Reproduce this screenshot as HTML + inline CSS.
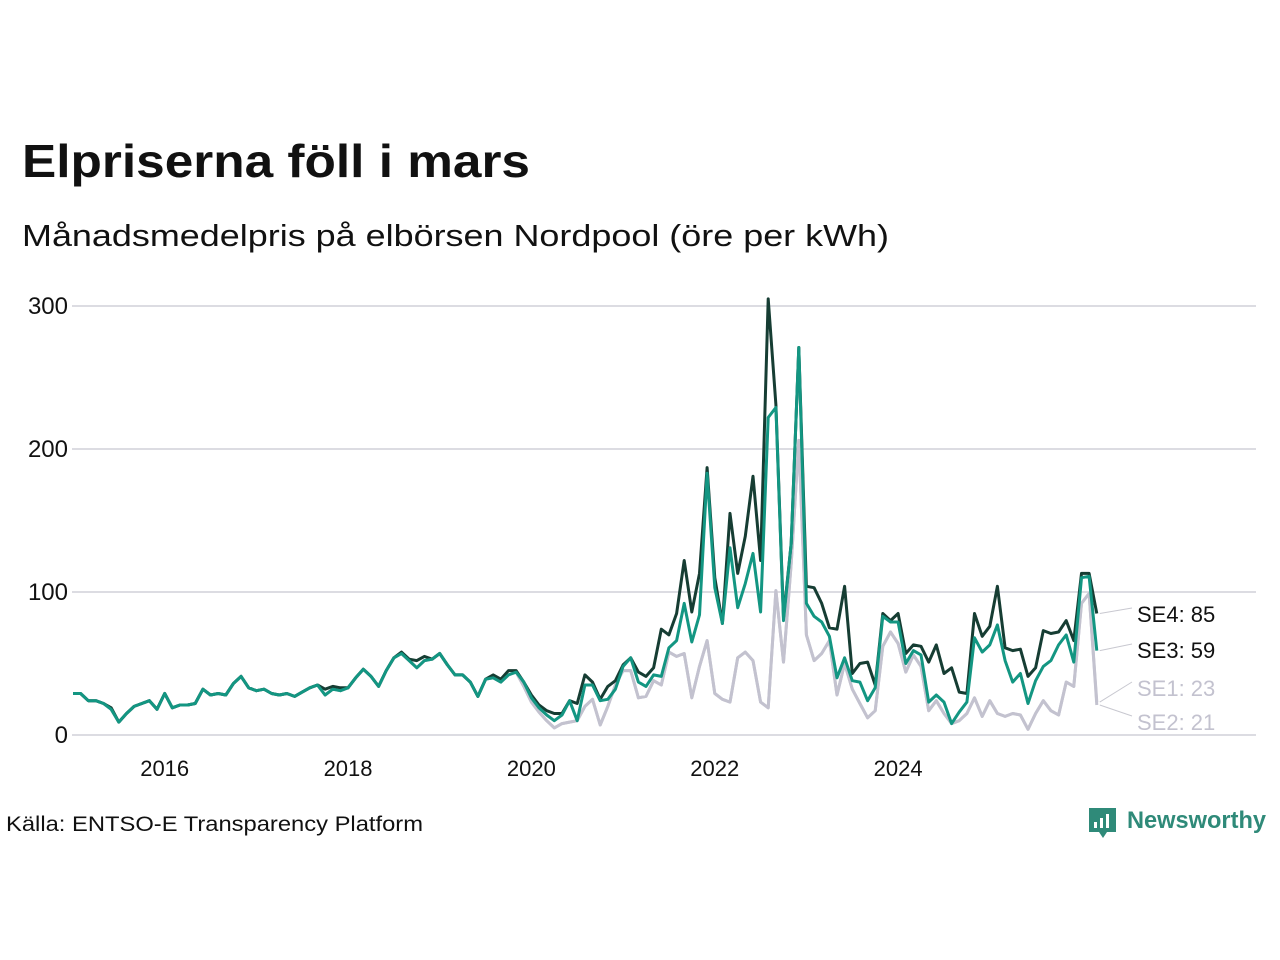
<!DOCTYPE html>
<html><head><meta charset="utf-8">
<style>
html,body{margin:0;padding:0;background:#fff;}
svg{display:block;font-family:"Liberation Sans",sans-serif;}
</style></head>
<body>
<svg id="chart" width="1280" height="960" viewBox="0 0 1280 960" xmlns="http://www.w3.org/2000/svg">
<text x="22" y="177" font-size="46" font-weight="bold" fill="#111" textLength="508" lengthAdjust="spacingAndGlyphs">Elpriserna föll i mars</text>
<text x="22" y="246" font-size="31" fill="#111" textLength="867" lengthAdjust="spacingAndGlyphs">Månadsmedelpris på elbörsen Nordpool (öre per kWh)</text>
<g id="grid"></g>
<g id="xaxis"></g>
<g id="lines"></g>
<g id="labels"></g>
<text x="6" y="831" font-size="21" fill="#111" textLength="417" lengthAdjust="spacingAndGlyphs">Källa: ENTSO-E Transparency Platform</text>
<g>
<path d="M1089 808 h27 v24 h-9 l-4 6 l-4 -6 h-10 z" fill="#2f8a79"/>
<rect x="1094" y="822" width="3" height="6" fill="#fff"/>
<rect x="1100" y="818" width="3" height="10" fill="#fff"/>
<rect x="1106" y="814" width="3" height="14" fill="#fff"/>
<text x="1127" y="828" font-size="24" font-weight="bold" fill="#2f8a79" textLength="139" lengthAdjust="spacingAndGlyphs">Newsworthy</text>
</g>
</svg>
<script>
const startYear = 2015;
const se4 = [29,29,24,24,22,19,9,15,20,22,24,18, 29,19,21,21,22,32,28,29,28,36,41,33, 31,32,29,28,29,27,30,33,35,32,34,33, 33,40,46,41,34,45,54,58,53,52,55,53, 57,49,42,42,37,27,39,42,39,45,45,37, 28,21,17,15,15,24,22,42,37,25,34,38, 49,54,44,41,47,74,70,85,122,86,113,187, 110,78,155,113,139,181,122,305,231,82,134,271, 104,103,92,75,74,104,43,50,51,35,85,80, 85,57,63,62,51,63,43,47,30,29,85,69, 76,104,61,59,60,41,47,73,71,72,80,66, 113,113,85];
const se3 = [29,29,24,24,22,18,9,15,20,22,24,18, 29,19,21,21,22,32,28,29,28,36,41,33, 31,32,29,28,29,27,30,33,35,28,32,31, 33,40,46,41,34,45,54,57,52,47,52,53, 57,49,42,42,37,27,39,40,37,42,44,37, 26,19,14,10,14,24,10,35,35,24,25,32, 48,54,37,34,42,41,61,66,92,65,84,183, 103,78,131,89,106,127,86,222,229,80,134,271, 92,83,79,69,40,54,38,37,24,33,83,79, 79,50,59,56,23,28,23,8,16,23,68,58, 63,77,52,37,43,22,38,48,52,63,70,51, 110,111,59];
const se2 = [29,29,24,24,22,18,9,15,20,22,24,18, 29,19,21,21,22,32,28,29,28,36,41,33, 31,32,29,28,29,27,30,33,35,28,32,31, 33,40,46,41,34,45,54,57,52,47,52,53, 57,49,42,42,37,27,39,40,37,42,44,34, 23,16,10,5,8,9,10,20,25,7,20,35, 45,45,26,27,38,35,58,55,57,26,48,66, 29,25,23,54,58,52,23,19,101,51,120,206, 70,52,57,66,28,50,32,22,12,17,62,72, 64,44,56,48,17,24,15,8,10,15,26,13, 24,15,13,15,14,4,15,24,17,14,37,34, 92,99,21];
const se1 = [29,29,24,24,22,18,9,15,20,22,24,18, 29,19,21,21,22,32,28,29,28,36,41,33, 31,32,29,28,29,27,30,33,35,28,32,31, 33,40,46,41,34,45,54,57,52,47,52,53, 57,49,42,42,37,27,39,40,37,42,44,34, 23,16,10,5,8,9,10,20,25,7,20,35, 45,45,26,27,38,35,58,55,57,26,48,66, 29,25,23,54,58,52,23,19,101,51,120,206, 70,52,57,66,28,50,32,22,12,17,62,72, 64,44,56,48,17,24,15,8,10,15,26,13, 24,15,13,15,14,4,15,24,17,14,37,34, 92,99,23];
const yTicks = [0,100,200,300];
const xTickYears = [2016,2018,2020,2022,2024];
const seriesNames = ["SE1","SE2","SE3","SE4"];

const NS = "http://www.w3.org/2000/svg";
const x = i => 73 + i * 7.64;
const xYear = y => x((y - startYear) * 12);
const yv = v => 735 - v * 1.43;

const grid = document.getElementById('grid');
yTicks.forEach(t => {
  const l = document.createElementNS(NS,'line');
  
  
  l.setAttribute('x1', 72); l.setAttribute('x2', 1256);
  l.setAttribute('y1', yv(t)); l.setAttribute('y2', yv(t));
  l.setAttribute('stroke', '#dcdce2'); l.setAttribute('stroke-width', 2);
  grid.appendChild(l);
  const tx = document.createElementNS(NS,'text');
  
  
  tx.setAttribute('x', 68); tx.setAttribute('y', yv(t) + 8);
  tx.setAttribute('text-anchor', 'end'); tx.setAttribute('font-size', 24); tx.setAttribute('fill', '#111');
  tx.textContent = t;
  grid.appendChild(tx);
});
const xa = document.getElementById('xaxis');
xTickYears.forEach(yr => {
  const tx = document.createElementNS(NS,'text');
  
  
  tx.setAttribute('x', xYear(yr)); tx.setAttribute('y', 776);
  tx.setAttribute('text-anchor', 'middle'); tx.setAttribute('font-size', 22); tx.setAttribute('fill', '#111');
  tx.textContent = yr;
  xa.appendChild(tx);
});

const lines = document.getElementById('lines');
function drawLine(data, color, name) {
  const p = document.createElementNS(NS,'path');
  
  
  p.setAttribute('d', data.map((v,i) => (i ? 'L' : 'M') + x(i).toFixed(1) + ' ' + yv(v).toFixed(1)).join(' '));
  p.setAttribute('fill', 'none'); p.setAttribute('stroke', color);
  p.setAttribute('stroke-width', 3); p.setAttribute('stroke-linejoin', 'round');
  lines.appendChild(p);
}
drawLine(se1, '#c3c2cf', 'se1-line');
drawLine(se2, '#c3c2cf', 'se2-line');
drawLine(se4, '#163d33', 'se4-line');
drawLine(se3, '#139682', 'se3-line');

const labels = document.getElementById('labels');
const last = se4.length - 1;
const labelDefs = [
  [seriesNames[3], se4[last], 615, '#111', 'se4-label'],
  [seriesNames[2], se3[last], 651, '#111', 'se3-label'],
  [seriesNames[0], se1[last], 689, '#c3c2cf', 'se1-label'],
  [seriesNames[1], se2[last], 723, '#c3c2cf', 'se2-label']
];
labelDefs.forEach(d => {
  const l = document.createElementNS(NS,'line');
  
  
  l.setAttribute('x1', x(last) + 3); l.setAttribute('y1', yv(d[1]));
  l.setAttribute('x2', 1132); l.setAttribute('y2', d[2] - 7);
  l.setAttribute('stroke', '#c8c8d0'); l.setAttribute('stroke-width', 1);
  labels.appendChild(l);
  const t = document.createElementNS(NS,'text');
  
  
  t.setAttribute('x', 1137); t.setAttribute('y', d[2] + 7);
  t.setAttribute('font-size', 22); t.setAttribute('fill', d[3]);
  t.textContent = d[0] + ': ' + d[1];
  labels.appendChild(t);
});
</script>
</body></html>
